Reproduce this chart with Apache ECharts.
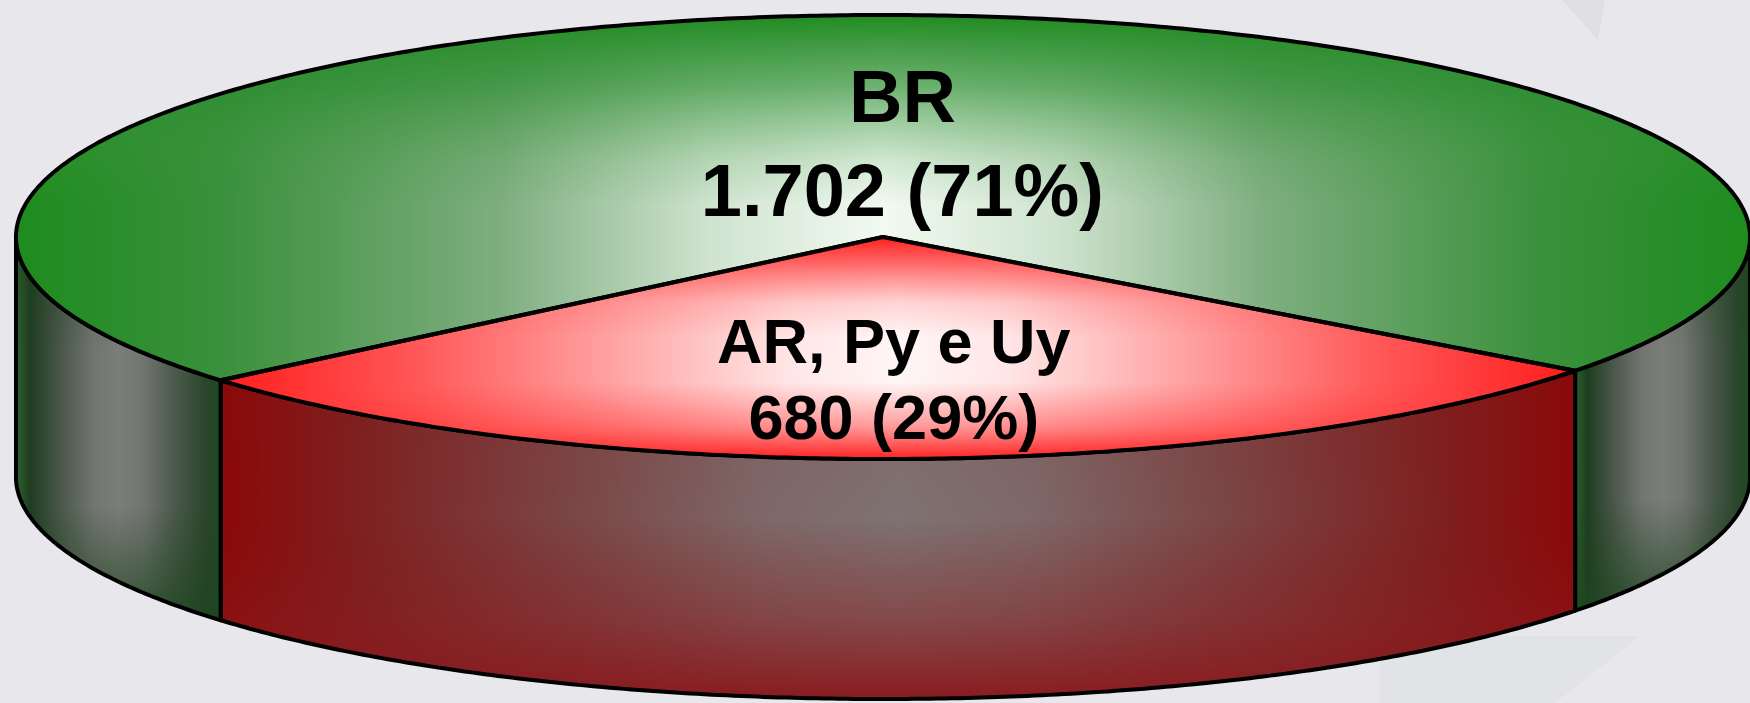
<!DOCTYPE html>
<html><head><meta charset="utf-8">
<script src="https://cdn.jsdelivr.net/npm/echarts@6/dist/echarts.min.js"></script>
<style>html,body{margin:0;padding:0;background:#e8e8ec}#c{width:1750px;height:703px}</style>
</head><body><div id="c"></div>
<script>
// ---- data ----
const categories = ['BR', 'AR, Py e Uy'];
const values = [1702, 680];

// ---- layout / style (not data) ----
const CX = 883, CY = 237, RX = 867, RY = 222, DEPTH = 240;
const START_ANGLE = 139.8;          // degrees, screen coords (y down), clockwise
const labelRadius = [0.40, 0.66];
const labelDx = [29, -5];
const labelFont = [{size: 74, lh: 94}, {size: 63, lh: 76}];
const palette = [
  { // green
    top: [[0,'#1e8c1e'],[0.12,'#3a903c'],[0.28,'#7fae80'],[0.4,'#cfe3cf'],[0.5,'#f2faf2'],[0.6,'#cfe3cf'],[0.72,'#7fae80'],[0.88,'#3a903c'],[1,'#1e8c1e']],
    topV: [[0,'rgba(30,138,30,1)'],[0.2,'rgba(40,140,45,0.65)'],[0.4,'rgba(60,150,60,0.18)'],[0.52,'rgba(60,150,60,0)'],[1,'rgba(60,150,60,0)']],
    wall: [[0,'#2b622b'],[0.07,'#1f3d21'],[0.22,'#4a584a'],[0.38,'#727571'],[0.5,'#7b7d79'],[0.62,'#727571'],[0.78,'#4a584a'],[0.93,'#2a452b'],[1,'#1d4a1f']],
    wallV: [[0,'rgba(30,64,30,0.35)'],[0.3,'rgba(30,64,30,0)'],[0.7,'rgba(30,64,30,0)'],[1,'rgba(30,70,30,0.8)']]
  },
  { // red
    top: [[0,'#ff1c1c'],[0.15,'#ff5a5a'],[0.3,'#ffa8a8'],[0.42,'#ffe6e6'],[0.5,'#fff6f6'],[0.58,'#ffe6e6'],[0.7,'#ffa8a8'],[0.85,'#ff5a5a'],[1,'#ff1c1c']],
    topV: [[0,'rgba(255,25,25,1)'],[0.12,'rgba(255,40,40,0.7)'],[0.3,'rgba(255,60,60,0.18)'],[0.45,'rgba(255,60,60,0)'],[0.65,'rgba(255,60,60,0)'],[0.85,'rgba(255,40,40,0.45)'],[1,'rgba(255,25,25,1)']],
    wall: [[0,'#8c0808'],[0.1,'#7e2020'],[0.26,'#7b4646'],[0.4,'#7e6868'],[0.5,'#7f7272'],[0.6,'#7e6868'],[0.74,'#7b4646'],[0.9,'#7e2020'],[1,'#8c0808']],
    wallV: [[0,'rgba(130,20,20,0.1)'],[0.45,'rgba(130,20,20,0)'],[0.75,'rgba(138,26,30,0.45)'],[1,'rgba(138,22,26,0.95)']]
  }
];

function fmt(n) { return String(n).replace(/\B(?=(\d{3})+(?!\d))/g, '.'); }
const total = values.reduce((a, b) => a + b, 0);
const starts = [];
{ let acc = START_ANGLE; values.forEach(v => { starts.push(acc); acc += 360 * v / total; }); }

function pt(deg, dy) {
  const r = deg * Math.PI / 180;
  return [CX + RX * Math.cos(r), CY + RY * Math.sin(r) + (dy || 0)];
}
function arc(a0, a1, dy) {
  const pts = [];
  const n = Math.max(2, Math.ceil(Math.abs(a1 - a0) / 0.5));
  for (let k = 0; k <= n; k++) pts.push(pt(a0 + (a1 - a0) * k / n, dy));
  return pts;
}
function lin(horizontal, stops) {
  return {type: 'linear', x: 0, y: 0, x2: horizontal ? 1 : 0, y2: horizontal ? 0 : 1,
    colorStops: stops.map(s => ({offset: s[0], color: s[1]}))};
}

function renderItem(params, api) {
  const i = params.dataIndex;
  const v = api.value(0);
  const a0 = starts[i];
  const a1 = a0 + 360 * v / total;
  const pal = palette[i];
  const children = [];
  // front walls
  for (let k = -1; k <= 2; k++) {
    const lo = Math.max(a0, 360 * k), hi = Math.min(a1, 360 * k + 180);
    if (hi - lo > 0.01) {
      const poly = arc(lo, hi, 0).concat(arc(hi, lo, DEPTH));
      children.push({type: 'polygon', shape: {points: poly},
        style: {fill: lin(true, pal.wall), stroke: null}, z2: 1});
      children.push({type: 'polygon', shape: {points: poly},
        style: {fill: lin(false, pal.wallV), stroke: '#000', lineWidth: 4, lineJoin: 'round'}, z2: 2});
    }
  }
  // top face
  const face = [[CX, CY]].concat(arc(a0, a1, 0));
  children.push({type: 'polygon', shape: {points: face},
    style: {fill: lin(true, pal.top), stroke: null}, z2: 3});
  children.push({type: 'polygon', shape: {points: face},
    style: {fill: lin(false, pal.topV), stroke: '#000', lineWidth: 4, lineJoin: 'round'}, z2: 4});
  // label
  const mid = (a0 + a1) / 2;
  const lp = pt(mid);
  const lx = CX + (lp[0] - CX) * labelRadius[i] + labelDx[i];
  const ly = CY + (lp[1] - CY) * labelRadius[i];
  const pct = Math.round(100 * v / total);
  children.push({type: 'text', x: lx, y: ly, z2: 100,
    style: {text: categories[i] + '\n' + fmt(v) + ' (' + pct + '%)',
      fontFamily: '"Liberation Sans", Arial, sans-serif', fontWeight: 'bold',
      fontSize: labelFont[i].size, lineHeight: labelFont[i].lh,
      fill: '#000', align: 'center', verticalAlign: 'middle'}});
  return {type: 'group', children};
}

const chart = echarts.init(document.getElementById('c'), null, {renderer: 'canvas'});
chart.setOption({
  backgroundColor: '#e8e8ec',
  animation: false,
  graphic: [
    {type: 'polygon', z: -10, shape: {points: [[1562, 0], [1605, 0], [1598, 40]]},
      style: {fill: 'rgba(205,205,210,0.3)'}},
    {type: 'polygon', z: -10, shape: {points: [[1380, 636], [1640, 636], [1555, 703], [1380, 703]]},
      style: {fill: 'rgba(212,216,220,0.3)'}}
  ],
  series: [{
    type: 'custom',
    coordinateSystem: 'none',
    renderItem: renderItem,
    data: values.map((v, i) => [v, i])
  }]
});
</script>
</body></html>
